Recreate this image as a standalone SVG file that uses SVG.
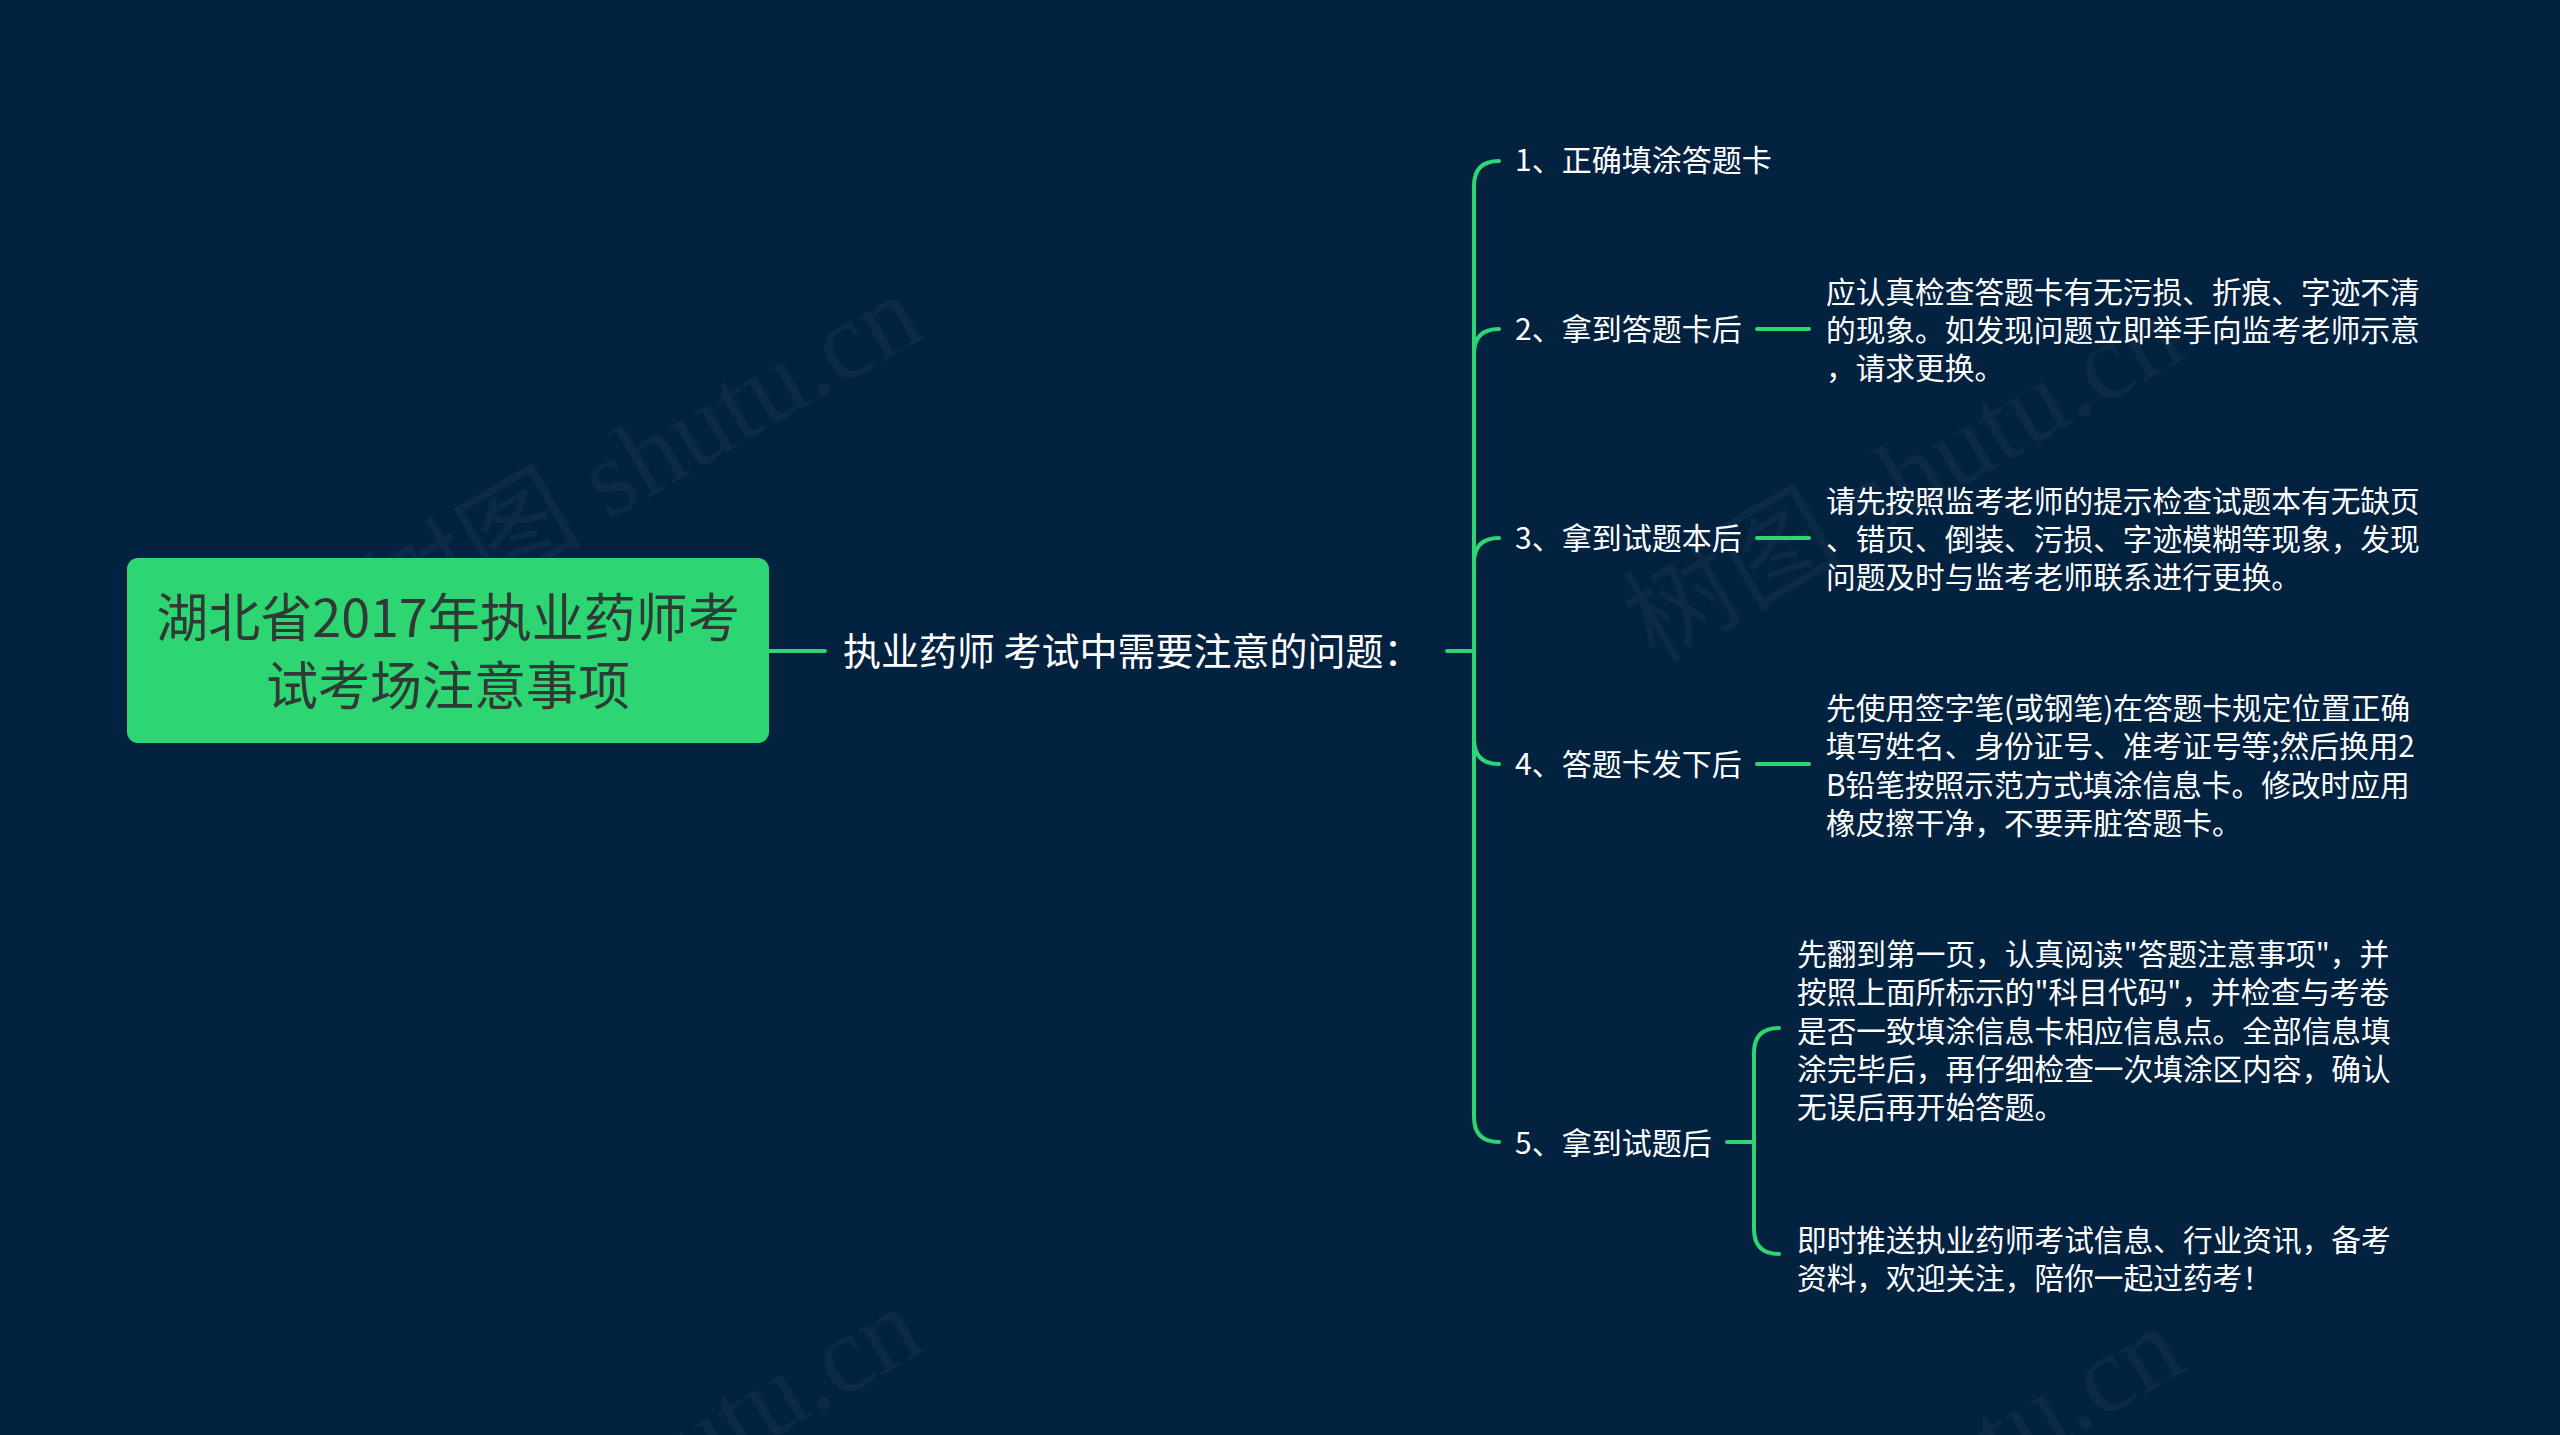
<svg xmlns="http://www.w3.org/2000/svg" width="2560" height="1435" viewBox="0 0 2560 1435">
<style>
.bg{fill:#022240}
.ln{fill:none;stroke:#2ed573;stroke-width:4;stroke-linecap:round}
.root{fill:#2ed573}
.rt{font-family:"Noto Sans CJK SC","Noto Sans",sans-serif;font-size:52px;fill:#2f3a35;text-anchor:middle}
.mt{font-family:"Noto Sans CJK SC","Noto Sans",sans-serif;font-size:38px;fill:#ffffff}
.t{font-family:"Noto Sans CJK SC","Noto Sans",sans-serif;font-size:30px;fill:#ffffff}
.d{font-family:"Noto Sans CJK SC","Noto Sans",sans-serif;font-size:29.7px;fill:#ffffff}
.wm{font-family:"Liberation Serif","Noto Sans CJK SC",serif;font-size:110px;fill:#8a8a8a;fill-opacity:0.08;text-anchor:middle}
</style>
<rect class="bg" x="0" y="0" width="2560" height="1435"/>

<g id="watermark">
<text class="wm" transform="translate(661 490) rotate(-30)">树图 shutu.cn</text>
<text class="wm" transform="translate(1922 510) rotate(-30)">树图 shutu.cn</text>
<text class="wm" transform="translate(661 1503) rotate(-30)">树图 shutu.cn</text>
<text class="wm" transform="translate(1922 1523) rotate(-30)">树图 shutu.cn</text>
</g>

<g id="connectors">
<path class="ln" d="M769 651 H825"/>
<path class="ln" d="M1447 651 H1474"/>
<path class="ln" d="M1474 651 V186 Q1474 161 1499 161"/>
<path class="ln" d="M1474 651 V354 Q1474 329 1499 329"/>
<path class="ln" d="M1474 651 V563 Q1474 538 1499 538"/>
<path class="ln" d="M1474 651 V739 Q1474 764 1499 764"/>
<path class="ln" d="M1474 651 V1117 Q1474 1142 1499 1142"/>
<path class="ln" d="M1757 329 H1809"/>
<path class="ln" d="M1757 538 H1809"/>
<path class="ln" d="M1757 764 H1809"/>
<path class="ln" d="M1727 1142 H1754"/>
<path class="ln" d="M1754 1142 V1053 Q1754 1028 1779 1028"/>
<path class="ln" d="M1754 1142 V1229 Q1754 1254 1779 1254"/>
</g>

<g id="root">
<rect class="root" x="127" y="558" width="642" height="185" rx="11"/>
<text class="rt" x="448" y="637">湖北省2017年执业药师考</text>
<text class="rt" x="448" y="705">试考场注意事项</text>
</g>

<g id="main">
<text class="mt" x="843" y="665">执业药师 考试中需要注意的问题：</text>
</g>

<g id="c1">
<text class="t" x="1515" y="171">1、正确填涂答题卡</text>
</g>
<g id="c2">
<text class="t" x="1515" y="340">2、拿到答题卡后</text>
</g>
<g id="c2d">
<text class="d" x="1826" y="303">应认真检查答题卡有无污损、折痕、字迹不清</text>
<text class="d" x="1826" y="341">的现象。如发现问题立即举手向监考老师示意</text>
<text class="d" x="1826" y="379">，请求更换。</text>
</g>
<g id="c3">
<text class="t" x="1515" y="549">3、拿到试题本后</text>
</g>
<g id="c3d">
<text class="d" x="1826" y="512">请先按照监考老师的提示检查试题本有无缺页</text>
<text class="d" x="1826" y="550">、错页、倒装、污损、字迹模糊等现象，发现</text>
<text class="d" x="1826" y="588">问题及时与监考老师联系进行更换。</text>
</g>
<g id="c4">
<text class="t" x="1515" y="775">4、答题卡发下后</text>
</g>
<g id="c4d">
<text class="d" x="1826" y="719">先使用签字笔(或钢笔)在答题卡规定位置正确</text>
<text class="d" x="1826" y="757">填写姓名、身份证号、准考证号等;然后换用2</text>
<text class="d" x="1826" y="796">B铅笔按照示范方式填涂信息卡。修改时应用</text>
<text class="d" x="1826" y="834">橡皮擦干净，不要弄脏答题卡。</text>
</g>
<g id="c5">
<text class="t" x="1515" y="1154">5、拿到试题后</text>
</g>
<g id="c5a">
<text class="d" x="1797" y="965">先翻到第一页，认真阅读"答题注意事项"，并</text>
<text class="d" x="1797" y="1003">按照上面所标示的"科目代码"，并检查与考卷</text>
<text class="d" x="1797" y="1042">是否一致填涂信息卡相应信息点。全部信息填</text>
<text class="d" x="1797" y="1080">涂完毕后，再仔细检查一次填涂区内容，确认</text>
<text class="d" x="1797" y="1118">无误后再开始答题。</text>
</g>
<g id="c5b">
<text class="d" x="1797" y="1251">即时推送执业药师考试信息、行业资讯，备考</text>
<text class="d" x="1797" y="1289">资料，欢迎关注，陪你一起过药考！</text>
</g>
</svg>
